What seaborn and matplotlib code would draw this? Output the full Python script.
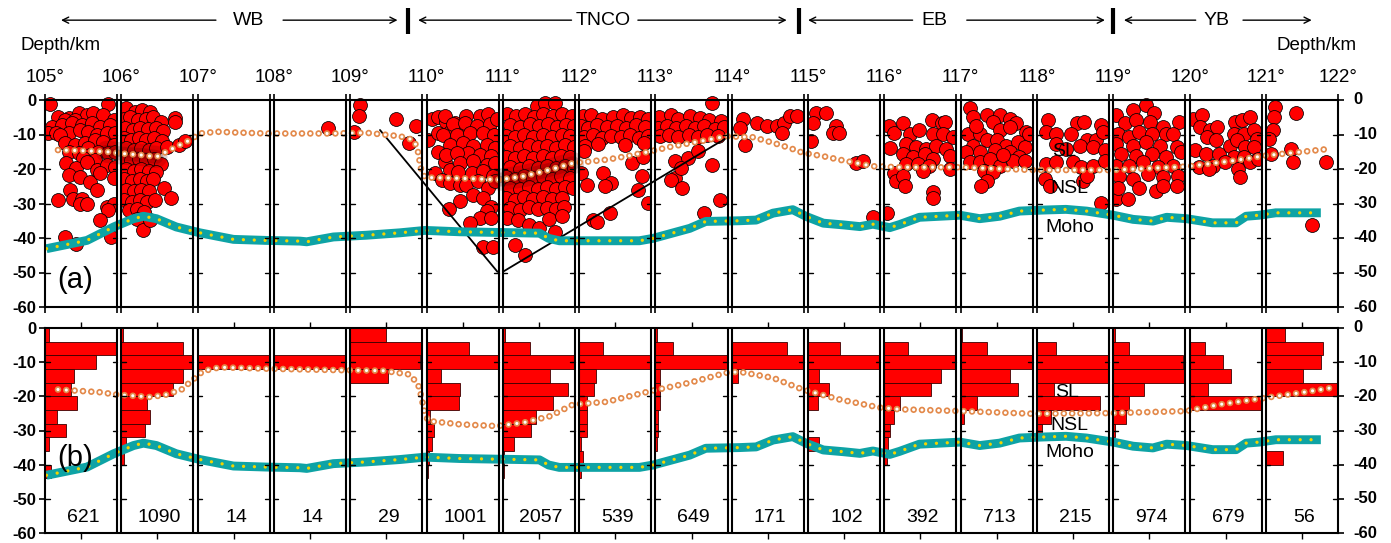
import matplotlib
matplotlib.use("Agg")
import numpy as np
import pandas as pd
import matplotlib.pyplot as plt
import seaborn as sns
from matplotlib.patches import Rectangle

# ---------------------------------------------------------------- data
box_start_lon = list(range(105, 122))
lon_tick_labels = [f"{v}°" for v in range(105, 123)]
depth_ticks = [0, -10, -20, -30, -40, -50, -60]
depth_tick_labels = ["0", "-10", "-20", "-30", "-40", "-50", "-60"]
event_counts = [621, 1090, 14, 14, 29, 1001, 2057, 539, 649, 171, 102, 392, 713, 215, 974, 679, 56]
regions = ["WB", "TNCO", "EB", "YB"]

# histogram: 4-km depth bins (top of bin), relative frequency per 1-degree box
hist_bin_top = [0, -4, -8, -12, -16, -20, -24, -28, -32, -36, -40]
hist_rel = [
    [0.06, 1.00, 0.71, 0.40, 0.36, 0.44, 0.16, 0.29, 0.05, 0.00, 0.08],
    [0.02, 0.85, 1.00, 0.85, 0.71, 0.36, 0.40, 0.33, 0.06, 0.04, 0.00],
    [0.00, 0.00, 1.00, 0.00, 0.00, 0.00, 0.00, 0.00, 0.00, 0.00, 0.00],
    [0.00, 0.00, 1.00, 0.00, 0.00, 0.00, 0.00, 0.00, 0.00, 0.00, 0.00],
    [0.49, 1.00, 0.97, 0.52, 0.00, 0.00, 0.00, 0.00, 0.00, 0.00, 0.00],
    [0.00, 0.59, 1.00, 0.20, 0.47, 0.45, 0.05, 0.10, 0.07, 0.03, 0.02],
    [0.03, 0.37, 1.00, 0.65, 0.91, 0.70, 0.46, 0.39, 0.16, 0.02, 0.01],
    [0.00, 0.33, 1.00, 0.24, 0.20, 0.11, 0.11, 0.11, 0.02, 0.06, 0.02],
    [0.02, 0.25, 1.00, 0.06, 0.06, 0.07, 0.03, 0.03, 0.02, 0.00, 0.00],
    [0.00, 0.77, 1.00, 0.08, 0.00, 0.00, 0.00, 0.00, 0.00, 0.00, 0.00],
    [0.00, 0.44, 1.00, 0.15, 0.29, 0.14, 0.00, 0.00, 0.15, 0.00, 0.00],
    [0.00, 0.33, 1.00, 0.79, 0.65, 0.21, 0.13, 0.08, 0.05, 0.03, 0.00],
    [0.02, 0.36, 1.00, 0.68, 0.80, 0.22, 0.05, 0.00, 0.00, 0.00, 0.00],
    [0.00, 0.26, 1.00, 1.00, 0.24, 0.88, 0.20, 0.07, 0.00, 0.00, 0.00],
    [0.03, 0.22, 0.97, 1.00, 0.43, 0.22, 0.17, 0.03, 0.00, 0.00, 0.00],
    [0.00, 0.21, 0.47, 0.58, 0.26, 1.00, 0.00, 0.00, 0.00, 0.00, 0.00],
    [0.27, 0.79, 0.77, 0.51, 1.00, 0.00, 0.00, 0.00, 0.00, 0.24, 0.00],
]

# earthquake hypocentres (lon, depth km)
quakes_wb = [
    (105.06, -1.2), (105.82, -1.2), (105.17, -4.8), (105.31, -5.3), (105.44, -3.9), (105.55, -4.4),
    (105.63, -3.9), (105.76, -4.4), (105.9, -5.8), (105.26, -5.8), (105.39, -5.8),
    (105.09, -7.7), (105.22, -7.3), (105.35, -6.8), (105.48, -7.3), (105.61, -6.8), (105.72, -7.7), (105.85, -7.3),
    (105.04, -9.7), (105.15, -9.7), (105.31, -9.7), (105.46, -8.7), (105.57, -9.2), (105.68, -10.2),
    (105.81, -9.7), (105.92, -9.7), (105.2, -10.2),
    (105.26, -12.6), (105.39, -13.1), (105.52, -12.6), (105.66, -11.6), (105.76, -12.1), (105.9, -13.1), (105.57, -14.0),
    (105.31, -15.0), (105.44, -15.5), (105.59, -16.0), (105.7, -15.0), (105.83, -15.5), (105.92, -15.0),
    (105.5, -16.9), (105.66, -17.4),
    (105.28, -18.4), (105.41, -19.8), (105.55, -17.9), (105.68, -20.3), (105.81, -18.9), (105.92, -19.4),
    (105.31, -21.8), (105.46, -22.3), (105.59, -23.7), (105.72, -21.3), (105.9, -22.7),
    (105.33, -26.1), (105.37, -28.6), (105.68, -26.1), (105.48, -28.6),
    (105.17, -29.0), (105.46, -30.0), (105.55, -30.0), (105.81, -31.0), (105.9, -30.0), (105.83, -31.9), (105.72, -34.8),
    (105.26, -39.7), (105.41, -41.8), (105.87, -39.6),
    (106.06, -2.4), (106.18, -3.4), (106.27, -3.0), (106.38, -3.4),
    (106.03, -5.5), (106.12, -5.0), (106.22, -5.8), (106.32, -5.5), (106.42, -5.0), (106.52, -6.5), (106.7, -5.3),
    (106.05, -8.2), (106.15, -8.7), (106.25, -8.0), (106.35, -8.5), (106.45, -8.0), (106.55, -9.0), (106.7, -6.3),
    (106.03, -11.0), (106.13, -11.5), (106.23, -11.0), (106.33, -11.5), (106.43, -11.0), (106.53, -12.0),
    (106.06, -14.0), (106.16, -14.5), (106.26, -14.0), (106.36, -14.5), (106.46, -14.0), (106.6, -13.6),
    (106.75, -13.0), (106.83, -12.0),
    (106.03, -17.0), (106.13, -17.5), (106.23, -17.0), (106.33, -17.5), (106.43, -17.0), (106.52, -18.5),
    (106.06, -20.0), (106.16, -20.5), (106.26, -20.0), (106.36, -20.5), (106.46, -21.0),
    (106.04, -23.0), (106.14, -23.5), (106.24, -23.0), (106.34, -23.5), (106.42, -23.0),
    (106.06, -26.0), (106.16, -26.5), (106.26, -26.0), (106.36, -26.5), (106.56, -25.6),
    (106.04, -29.0), (106.14, -29.5), (106.24, -29.0), (106.34, -29.5), (106.44, -29.0), (106.65, -28.3),
    (106.1, -32.0), (106.2, -31.5), (106.3, -32.5),
    (106.2, -34.5), (106.28, -37.6), (106.38, -34.8),
    (108.71, -8.2),
    (109.13, -1.5), (109.12, -4.6), (109.05, -9.2), (109.6, -5.6), (109.86, -7.5), (109.77, -12.6),
]
quakes_tnco = [
    (110.07, -5.6), (110.15, -4.8), (110.26, -6.3), (110.37, -6.8), (110.02, -11.6), (110.15, -9.7),
    (110.31, -9.2), (110.42, -9.7), (110.15, -15.0), (110.24, -17.9), (110.11, -21.3), (110.31, -20.3),
    (110.2, -23.2), (110.31, -24.2), (110.44, -24.7),
    (110.24, -4.7), (110.52, -4.7), (110.7, -4.7), (110.81, -4.2), (110.35, -7.1), (110.5, -6.6),
    (110.66, -7.6), (110.83, -7.1), (110.93, -5.5),
    (110.22, -10.0), (110.4, -10.0), (110.57, -9.5), (110.74, -9.5), (110.88, -10.0),
    (110.31, -12.9), (110.48, -12.4), (110.61, -13.4), (110.79, -12.9), (110.9, -13.9),
    (110.26, -15.8), (110.55, -15.3), (110.7, -15.8), (110.85, -16.3), (110.4, -15.5),
    (110.44, -18.3), (110.61, -17.8), (110.79, -18.8), (110.9, -18.3),
    (110.41, -21.0), (110.59, -21.2), (110.74, -20.7), (110.87, -22.1),
    (110.52, -24.6), (110.68, -23.6), (110.81, -25.5), (110.9, -23.6),
    (110.44, -29.4), (110.61, -27.5), (110.74, -28.4), (110.85, -30.9), (110.79, -32.3), (110.7, -34.3),
    (110.57, -35.7), (110.85, -34.3), (110.74, -42.5), (110.87, -42.5), (110.3, -31.5),
    (111.45, -1.7), (111.55, -0.8), (111.69, -0.8),
    (111.05, -4.2), (111.17, -4.7), (111.29, -4.0), (111.41, -4.8), (111.53, -4.1), (111.66, -4.5), (111.78, -4.0), (111.9, -4.7),
    (111.1, -7.3), (111.23, -7.8), (111.35, -7.0), (111.47, -7.6), (111.59, -7.1), (111.71, -7.9), (111.83, -7.2), (111.93, -7.5),
    (111.04, -10.3), (111.16, -10.8), (111.28, -10.0), (111.4, -10.6), (111.52, -10.1), (111.65, -10.7), (111.77, -10.0), (111.88, -10.5),
    (111.1, -13.4), (111.22, -13.9), (111.34, -13.1), (111.46, -13.7), (111.58, -13.2), (111.7, -13.8), (111.82, -13.0), (111.93, -13.6),
    (111.04, -16.4), (111.16, -16.9), (111.28, -16.1), (111.4, -16.7), (111.52, -16.2), (111.64, -16.8), (111.76, -16.1), (111.88, -16.6),
    (111.1, -19.4), (111.22, -19.9), (111.34, -19.1), (111.46, -19.7), (111.58, -19.2), (111.7, -19.8), (111.82, -19.1), (111.93, -19.6),
    (111.04, -22.4), (111.16, -22.9), (111.28, -22.1), (111.4, -22.7), (111.52, -22.2), (111.64, -22.8), (111.76, -22.1), (111.88, -22.6),
    (111.1, -25.4), (111.22, -25.9), (111.34, -25.1), (111.46, -25.7), (111.58, -25.2), (111.7, -25.8), (111.82, -25.1), (111.92, -25.6),
    (111.04, -28.4), (111.16, -28.9), (111.28, -28.1), (111.4, -28.7), (111.52, -28.2), (111.64, -28.8), (111.77, -28.3),
    (111.1, -31.4), (111.22, -31.9), (111.34, -31.1), (111.46, -31.7), (111.58, -31.2), (111.7, -31.6), (111.8, -30.9),
    (111.05, -34.3), (111.2, -34.8), (111.34, -36.2), (111.47, -37.2), (111.6, -34.5), (111.69, -38.2), (111.78, -33.6),
    (111.16, -42.0), (111.29, -45.0),
    (112.05, -4.6), (112.16, -4.3), (112.3, -5.5), (112.45, -5.0), (112.58, -4.4), (112.68, -5.2), (112.8, -4.8), (112.9, -5.6),
    (112.03, -7.6), (112.12, -8.0), (112.23, -7.2), (112.36, -7.8), (112.5, -7.4), (112.62, -8.0), (112.74, -7.3), (112.86, -7.9),
    (112.06, -10.6), (112.18, -10.2), (112.3, -11.0), (112.42, -10.4), (112.55, -10.8), (112.67, -10.2), (112.79, -10.9), (112.9, -10.3),
    (112.08, -13.2), (112.25, -12.8), (112.6, -13.0), (112.85, -12.6),
    (112.07, -14.9), (112.03, -21.2), (112.1, -24.6), (112.31, -21.2), (112.42, -24.1), (112.34, -25.0),
    (112.18, -34.8), (112.24, -35.5), (112.4, -32.8), (112.77, -26.0), (112.82, -22.1), (112.69, -18.3),
    (112.84, -16.5), (112.9, -29.9),
    (113.74, -1.0),
    (113.05, -5.0), (113.2, -4.4), (113.3, -5.5), (113.45, -4.6), (113.58, -5.2), (113.7, -5.8), (113.86, -6.0),
    (113.04, -8.0), (113.15, -7.4), (113.27, -8.2), (113.4, -7.6), (113.52, -8.0), (113.64, -7.4), (113.78, -8.4), (113.9, -7.8),
    (113.06, -10.5), (113.18, -10.0), (113.3, -10.8), (113.44, -10.2), (113.56, -10.6), (113.68, -10.0), (113.82, -10.3),
    (113.26, -17.8), (113.43, -16.8), (113.56, -14.9), (113.26, -22.6), (113.2, -23.3), (113.35, -25.5),
    (113.34, -19.7), (113.74, -18.7), (113.85, -28.9), (113.63, -32.8),
    (114.15, -5.6), (114.11, -8.1), (114.33, -6.8), (114.46, -7.6), (114.59, -7.6), (114.68, -6.6),
    (114.76, -4.7), (114.85, -4.7), (114.66, -9.5), (114.17, -12.9),
]
quakes_eb = [
    (115.11, -3.7), (115.24, -3.7), (115.07, -6.6), (115.37, -7.6), (115.33, -9.5), (115.41, -9.5),
    (115.04, -11.9), (115.63, -18.3), (115.72, -17.8), (115.85, -33.8),
    (116.06, -7.6), (116.12, -9.5), (116.08, -13.9), (116.13, -21.2), (116.15, -23.6), (116.04, -32.8),
    (116.24, -6.8), (116.33, -9.8), (116.46, -8.8), (116.62, -5.9), (116.75, -6.8), (116.79, -6.3),
    (116.64, -9.8), (116.77, -9.8), (116.9, -10.7), (116.29, -12.7), (116.42, -13.7), (116.55, -14.1),
    (116.68, -13.2), (116.81, -14.1), (116.24, -15.6), (116.38, -16.6), (116.53, -15.6), (116.64, -17.1),
    (116.86, -16.1), (116.29, -18.5), (116.44, -18.5), (116.59, -19.0), (116.24, -22.0), (116.27, -24.9),
    (116.51, -20.5), (116.64, -26.8), (116.64, -28.3), (116.86, -20.0),
    (117.12, -2.4), (117.16, -4.9), (117.34, -4.4), (117.51, -4.4), (117.64, -5.4), (117.73, -6.8),
    (117.86, -9.3), (117.1, -9.8), (117.25, -9.8), (117.42, -6.3), (117.51, -8.8), (117.64, -7.8),
    (117.16, -13.2), (117.34, -11.7), (117.47, -11.7), (117.6, -13.2), (117.75, -12.2), (117.84, -13.7),
    (117.07, -15.1), (117.25, -15.1), (117.45, -14.6), (117.64, -15.1), (117.77, -16.6),
    (117.12, -18.0), (117.25, -18.0), (117.38, -17.1), (117.51, -19.0), (117.69, -17.6), (117.84, -17.6),
    (117.9, -9.8), (117.2, -7.5), (117.55, -15.8), (117.3, -20.5), (117.42, -21.0),
    (117.34, -23.4), (117.27, -24.9),
    (118.14, -5.9), (118.52, -6.8), (118.62, -6.3), (118.84, -7.3), (118.12, -9.3), (118.25, -9.8),
    (118.45, -9.8), (118.65, -11.7), (118.78, -11.7), (118.86, -9.3), (118.25, -12.7), (118.38, -14.1),
    (118.56, -13.2), (118.73, -13.7), (118.89, -14.6), (118.12, -18.5), (118.25, -18.0), (118.47, -18.0),
    (118.58, -19.5), (118.73, -19.0), (118.89, -17.6), (118.1, -22.9), (118.17, -24.9), (118.6, -23.4),
    (118.65, -22.0), (118.84, -29.8),
]
quakes_yb = [
    (119.43, -1.5), (119.54, -3.9), (119.26, -2.9), (119.04, -4.4), (119.15, -6.8), (119.3, -5.9),
    (119.48, -6.3), (119.65, -7.8), (119.86, -6.3), (119.06, -9.8), (119.21, -10.7), (119.34, -9.3),
    (119.51, -9.8), (119.69, -9.8), (119.78, -9.8), (119.04, -12.7), (119.26, -13.2), (119.43, -12.2),
    (119.61, -13.2), (119.83, -13.7), (119.1, -15.6), (119.3, -16.1), (119.51, -15.6), (119.69, -16.6),
    (119.89, -15.1), (119.04, -19.0), (119.21, -19.0), (119.39, -18.0), (119.59, -19.5), (119.78, -19.0),
    (119.08, -22.0), (119.26, -22.9), (119.45, -21.5), (119.65, -22.4), (119.85, -22.0),
    (119.04, -28.8), (119.19, -28.8), (119.34, -25.4), (119.56, -26.3), (119.65, -24.9), (119.83, -24.9), (119.06, -25.4),
    (120.05, -5.4), (120.16, -4.4), (120.14, -7.8), (120.27, -8.8), (120.36, -7.8), (120.23, -10.7),
    (120.34, -11.7), (120.07, -14.6), (120.21, -15.6), (120.38, -15.6), (120.53, -13.2), (120.6, -6.3),
    (120.69, -5.9), (120.79, -4.9), (120.58, -9.8), (120.71, -9.8), (120.84, -8.8), (120.88, -11.2),
    (120.62, -11.7), (120.73, -13.7), (120.84, -13.7), (120.58, -16.6), (120.71, -16.6), (120.31, -19.0),
    (120.47, -18.0), (120.64, -20.0), (120.66, -22.4), (120.79, -18.0), (120.9, -17.1), (120.12, -19.5), (120.25, -20.0),
    (121.12, -2.0), (121.11, -4.9), (121.39, -3.9), (121.09, -8.8), (121.04, -11.2), (121.07, -15.6),
    (121.33, -14.1), (121.35, -18.0), (121.79, -18.0), (121.61, -36.1),
]

# interfaces
sl_a_lon = [105.17, 105.5, 105.81, 106.0, 106.29, 106.46, 106.59, 106.77, 106.9, 107.03, 107.25, 107.47,
            107.9, 108.78, 109.21, 109.65, 109.83, 109.88, 109.9, 109.93, 109.98, 110.09, 110.44, 110.96,
            111.27, 111.62, 111.92, 112.36, 112.62, 112.93, 113.23, 113.58, 113.93, 114.28, 114.54, 114.76,
            114.93, 115.2, 115.41, 115.85, 116.2, 116.99, 117.95, 119.0, 119.96, 120.57, 121.0, 121.44, 121.86]
sl_a_dep = [-14.5, -14.7, -15.0, -15.5, -16.0, -16.5, -15.0, -13.0, -11.6, -9.7, -9.2, -9.4,
            -9.7, -9.7, -9.5, -10.5, -11.6, -14.0, -16.5, -20.3, -22.5, -22.5, -22.7, -23.1,
            -22.1, -20.2, -18.3, -17.3, -16.3, -14.9, -13.4, -12.0, -10.5, -10.8, -12.4, -13.9,
            -15.3, -16.3, -17.3, -19.2, -19.5, -19.5, -20.3, -20.3, -19.3, -17.6, -16.1, -15.1, -14.1]
sl_b_lon = [105.17, 105.72, 105.94, 106.38, 106.59, 106.79, 106.94, 107.07, 107.29, 107.9, 108.78, 109.43,
            109.78, 109.89, 109.93, 109.97, 110.02, 110.44, 110.92, 111.27, 111.62, 111.92, 112.36, 112.93,
            113.45, 113.93, 114.1, 114.54, 114.93, 115.41, 115.94, 116.2, 116.99, 117.95, 119.0, 119.96,
            120.39, 121.0, 121.44, 121.92]
sl_b_dep = [-18.0, -18.8, -19.5, -20.2, -19.5, -18.0, -15.1, -12.6, -11.5, -11.9, -12.3, -12.5,
            -13.6, -16.5, -19.9, -24.3, -27.2, -28.2, -28.7, -27.7, -25.8, -22.4, -21.6, -18.5,
            -16.0, -13.1, -12.8, -14.6, -18.0, -20.9, -23.3, -23.8, -24.3, -25.1, -24.9, -24.3,
            -22.4, -20.4, -19.0, -17.3]
moho_lon = [105.02, 105.55, 105.9, 106.16, 106.29, 106.46, 106.72, 107.03, 107.47, 107.9, 108.34, 108.43,
            108.78, 109.21, 109.65, 109.98, 110.44, 111.48, 111.6, 111.74, 112.79, 112.97, 113.45, 113.66,
            114.1, 114.32, 114.54, 114.8, 114.98, 115.2, 115.46, 115.68, 115.85, 116.07, 116.2, 116.46,
            116.99, 117.25, 117.51, 117.77, 118.08, 118.38, 118.65, 119.0, 119.26, 119.52, 119.7, 119.96,
            120.3, 120.61, 120.74, 120.91, 121.13, 121.72]
moho_dep = [-43.1, -40.7, -36.8, -34.4, -33.7, -34.4, -36.8, -38.5, -40.4, -40.7, -40.9, -41.1,
            -39.7, -39.2, -38.5, -37.8, -38.2, -38.6, -40.1, -40.8, -40.8, -40.1, -37.2, -35.2,
            -35.0, -34.8, -32.8, -31.8, -33.8, -35.7, -36.2, -36.7, -36.0, -37.0, -36.1, -34.0,
            -33.4, -34.4, -33.7, -32.2, -31.9, -31.7, -32.2, -33.4, -34.6, -35.1, -34.0, -34.4,
            -35.6, -35.6, -33.7, -33.4, -32.7, -32.7]
# V-shaped outline under the TNCO (two limbs)
v_left_lon, v_left_dep = [109.39, 110.93], [-8.7, -49.8]
v_right_lon, v_right_dep = [111.0, 113.93], [-49.8, -11.0]
# longitude spans where the SL crosses the densest seismicity (dark halo)
halo_spans = [(105.6, 106.5), (110.5, 111.95), (117.1, 117.6), (120.4, 120.9)]

# ---------------------------------------------------------------- layout / style
sns.set_theme(style="white")
plt.rcParams["font.family"] = ["Liberation Sans", "DejaVu Sans"]
plt.rcParams["lines.scale_dashes"] = False
for k in ("text.color", "axes.labelcolor", "xtick.color", "ytick.color", "axes.edgecolor"):
    plt.rcParams[k] = "black"

XMIN, XMAX, BOX_W = 105.0, 121.945, 0.945
RED, ORANGE, TEAL, YELLOW = "#ff0000", "#e3894a", "#0ea3a5", "#f4d400"
FW, FH = 1391, 543
fig = plt.figure(figsize=(FW / 100, FH / 100), dpi=100)
L, W = 45 / FW, (1338 - 45) / FW
ax1 = fig.add_axes([L, 1 - 307 / FH, W, 207 / FH])
ax2 = fig.add_axes([L, 1 - 533 / FH, W, 205 / FH])

quakes = pd.DataFrame(quakes_wb + quakes_tnco + quakes_eb + quakes_yb, columns=["lon", "depth"])
quakes["box"] = np.floor(quakes["lon"]).astype(int)


def frame(ax):
    ax.set_xlim(XMIN, XMAX)
    ax.set_ylim(-60, 0)
    for s in ax.spines.values():
        s.set_linewidth(1.5)
        s.set_color("black")
        s.set_zorder(8)
    for b in box_start_lon:
        if b > XMIN:
            ax.axvline(b, color="black", lw=1.5, zorder=8)
        if b + BOX_W < XMAX - 0.01:
            ax.axvline(b + BOX_W, color="black", lw=1.5, zorder=8)
        for d in depth_ticks[1:-1]:
            ax.plot([b, b + 0.06], [d, d], color="black", lw=1.0, zorder=8)
            ax.plot([b + BOX_W - 0.06, b + BOX_W], [d, d], color="black", lw=1.0, zorder=8)
    ax.set_yticks(depth_ticks)
    ax.set_yticklabels(depth_tick_labels, fontweight="bold", fontsize=12)
    ax.tick_params(axis="y", left=True, right=True, labelleft=True, labelright=False,
                   direction="out", length=4, width=1.2, pad=2, colors="black")
    for d, lab in zip(depth_ticks, depth_tick_labels):
        ax.annotate(lab, xy=(1, d), xycoords=("axes fraction", "data"), xytext=(11, 0),
                    textcoords="offset points", ha="left", va="center",
                    fontweight="bold", fontsize=12, annotation_clip=False)
    ax.set_xlabel("")
    ax.set_ylabel("")
    ax.grid(False)


def interfaces(ax, sl_lon, sl_dep):
    sns.lineplot(x=sl_lon, y=sl_dep, ax=ax, sort=False, estimator=None, color=ORANGE, lw=4.8,
                 linestyle=(0, (0.01, 6.0)), dash_capstyle="round", zorder=5)
    sns.lineplot(x=sl_lon, y=sl_dep, ax=ax, sort=False, estimator=None, color="white", lw=2.3,
                 linestyle=(0, (0.01, 6.0)), dash_capstyle="round", zorder=5)
    sns.lineplot(x=moho_lon, y=moho_dep, ax=ax, sort=False, estimator=None, color=TEAL, lw=6.4,
                 solid_capstyle="butt", zorder=6)
    sns.lineplot(x=moho_lon, y=moho_dep, ax=ax, sort=False, estimator=None, color=YELLOW, lw=2.4,
                 linestyle=(0, (0.01, 7.8)), dash_capstyle="round", zorder=6)


# ---------------------------------------------------------------- panel (a)
for b in box_start_lon:
    sub = quakes[quakes["box"] == b]
    if sub.empty:
        continue
    n0 = len(ax1.collections)
    sns.scatterplot(data=sub, x="lon", y="depth", ax=ax1, s=100, color=RED, edgecolor="black",
                    linewidth=0.55, legend=False, zorder=3)
    clip = Rectangle((b, -60), BOX_W, 63, transform=ax1.transData)
    for c in ax1.collections[n0:]:
        c.set_clip_path(clip)
# dark halo where SL runs through dense clusters
sl_arr_lon, sl_arr_dep = np.array(sl_a_lon), np.array(sl_a_dep)
for lo, hi in halo_spans:
    m = (sl_arr_lon >= lo) & (sl_arr_lon <= hi)
    for lw_, al in ((16, 0.18), (10, 0.22), (5, 0.25)):
        ax1.plot(sl_arr_lon[m], sl_arr_dep[m], color="#4a0000", lw=lw_, alpha=al,
                 solid_capstyle="round", zorder=4)
ax1.plot(v_left_lon, v_left_dep, color="black", lw=1.3, zorder=4)
ax1.plot(v_right_lon, v_right_dep, color="black", lw=1.3, zorder=4)
interfaces(ax1, sl_a_lon, sl_a_dep)
frame(ax1)
ax1.set_xticks(box_start_lon + [XMAX])
ax1.set_xticklabels(lon_tick_labels, fontsize=13.5)
ax1.set_xticks([b + BOX_W for b in box_start_lon[:-1]], minor=True)
ax1.tick_params(axis="x", which="both", top=True, bottom=True, labeltop=True, labelbottom=False,
                direction="out", length=4, width=1.2, pad=6, colors="black")
ax1.text(105.39, -52.2, "(a)", fontsize=21, ha="center", va="center", zorder=9, color="black")
ax1.text(118.36, -15.0, "SL", fontsize=14, ha="center", va="center", zorder=9, color="black")
ax1.text(118.43, -25.7, "NSL", fontsize=14, ha="center", va="center", zorder=9, color="black")
ax1.text(118.43, -37.0, "Moho", fontsize=14, ha="center", va="center", zorder=9, color="black")

# ---------------------------------------------------------------- panel (b)
for b, rel in zip(box_start_lon, hist_rel):
    ax2.barh([t - 2 for t in hist_bin_top], [r * BOX_W for r in rel], left=b, height=4,
             color=RED, edgecolor="#3a0000", linewidth=0.6, zorder=2)
interfaces(ax2, sl_b_lon, sl_b_dep)
frame(ax2)
ax2.set_xticks([b + BOX_W / 2 for b in box_start_lon])
ax2.set_xticklabels([])
ax2.tick_params(axis="x", top=True, bottom=True, labeltop=False, labelbottom=False,
                direction="out", length=4, width=1.0, colors="black")
for b, n in zip(box_start_lon, event_counts):
    ax2.text(b + BOX_W / 2 + 0.03, -55.5, str(n), fontsize=14, ha="center", va="center", zorder=9)
ax2.text(105.39, -38.0, "(b)", fontsize=21, ha="center", va="center", zorder=9)
ax2.text(118.4, -19.0, "SL", fontsize=14, ha="center", va="center", zorder=9)
ax2.text(118.43, -28.4, "NSL", fontsize=14, ha="center", va="center", zorder=9)
ax2.text(118.43, -36.5, "Moho", fontsize=14, ha="center", va="center", zorder=9)

# ---------------------------------------------------------------- header
hdr = fig.add_axes([L, 1 - 42 / FH, W, 42 / FH])
hdr.set_xlim(XMIN, XMAX)
hdr.set_ylim(0, 1)
hdr.axis("off")
region_text_lon = [107.67, 112.32, 116.65, 120.35]
left_head = [105.21, 109.89, 115.0, 119.14]
left_tail = [107.24, 111.9, 116.37, 120.08]
right_tail = [108.12, 112.77, 117.08, 120.7]
right_head = [109.62, 114.72, 118.89, 121.6]
bar_lon = [109.76, 114.88, 118.99]
ya = 0.52
for name, tx, lh, lt, rt, rh in zip(regions, region_text_lon, left_head, left_tail, right_tail, right_head):
    hdr.text(tx, ya, name, fontsize=14, ha="center", va="center")
    for a, bb in ((lh, lt), (rh, rt)):
        hdr.annotate("", xy=(a, ya), xytext=(bb, ya),
                     arrowprops=dict(arrowstyle="->", lw=1.0, color="black",
                                     shrinkA=0, shrinkB=0, mutation_scale=11))
for x in bar_lon:
    hdr.plot([x, x], [0.2, 0.82], color="black", lw=3, solid_capstyle="butt")

fig.text(61 / FW, 1 - 46 / FH, "Depth/km", fontsize=13.5, ha="center", va="center")
fig.text(1317 / FW, 1 - 46 / FH, "Depth/km", fontsize=13.5, ha="center", va="center")

fig.savefig("out.png", dpi=100, facecolor="white")
